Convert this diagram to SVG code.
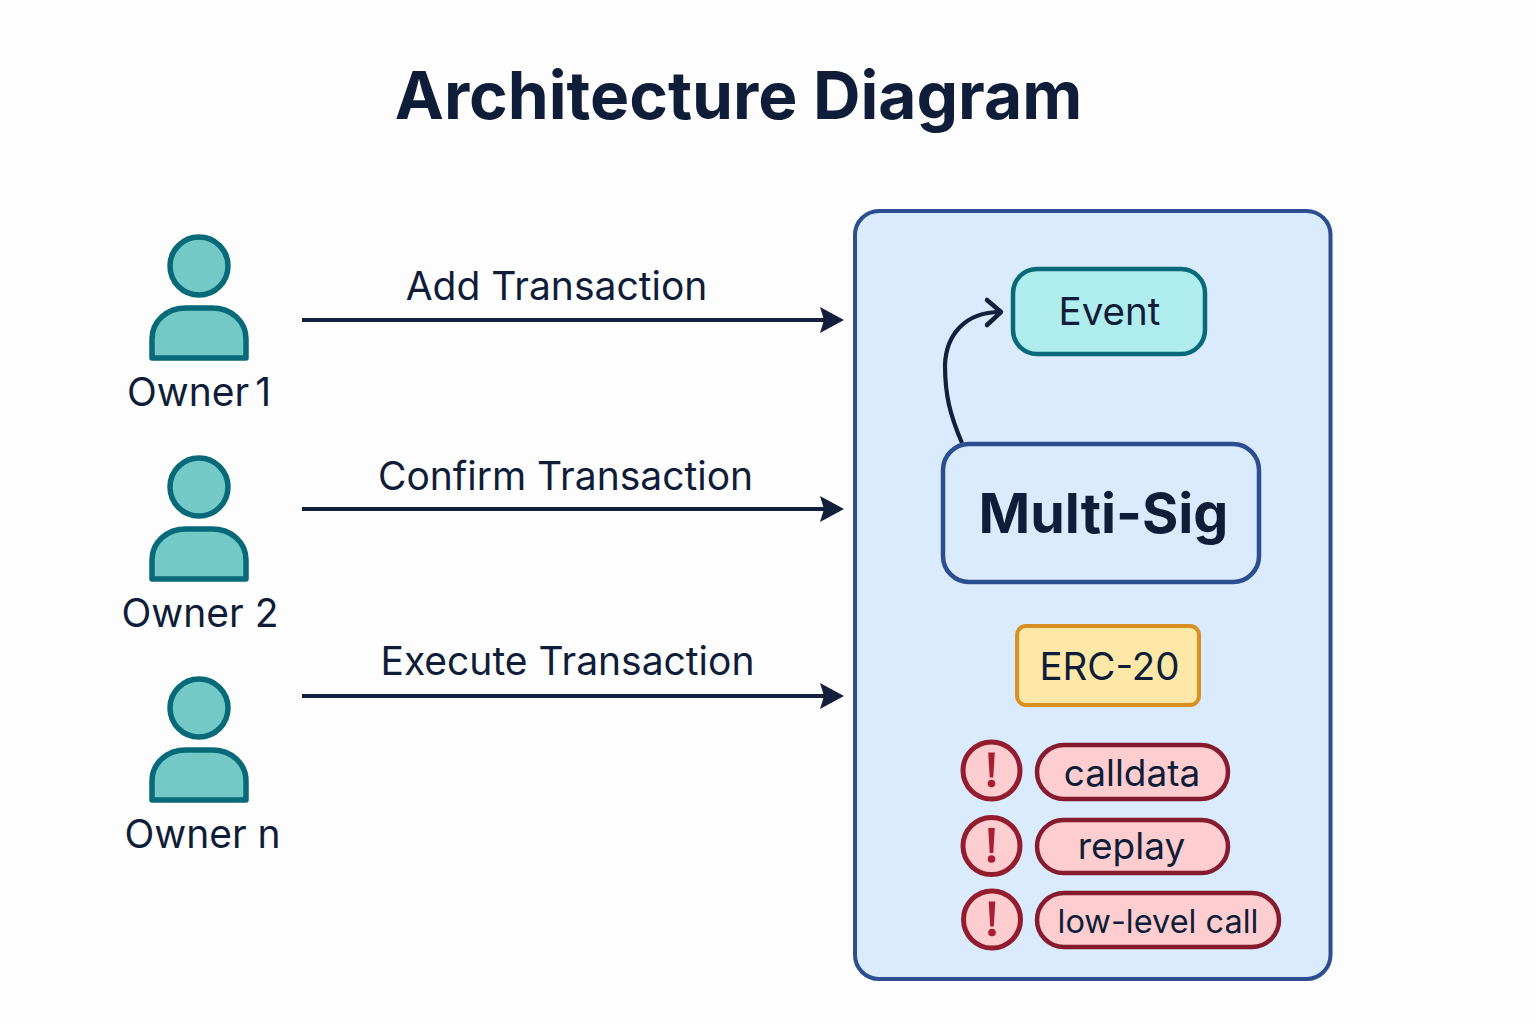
<svg xmlns="http://www.w3.org/2000/svg" width="1536" height="1024" viewBox="0 0 1536 1024">
<style>
text{font-family:Inter,"Noto Sans","Liberation Sans",sans-serif;fill:#101d38;text-anchor:middle}
.lbl{font-size:39px}
.own{font-size:39px}
.conn{stroke:#12203c;stroke-width:3.8;fill:none}
.curve{stroke:#12203c;stroke-width:4.2;fill:none}
.head{fill:#12203c;stroke:none}
.person{fill:#73c9c5;stroke:#086a78;stroke-width:5.5;stroke-linejoin:round}
.risk{fill:#fecdd0;stroke:#851b2d;stroke-width:4.5}
.riskc{fill:#fecdd0;stroke:#931d2f;stroke-width:5}
.bang{fill:#a81f32;stroke:none}
.rt{font-size:37px}
</style>
<defs>
<g id="person"><circle cx="199" cy="266" r="29" class="person"/><path d="M152 358V339C152 321 167 308 186 308H212C231 308 246 321 246 339V358Z" class="person"/></g>
<g id="bang"><circle r="28.500" class="riskc"/><path d="M-3.300 -18H3.300L1.800 7H-1.800Z" class="bang"/><circle cy="13" r="3.800" class="bang"/></g>
</defs>
<rect width="1536" height="1024" fill="#fdfdfe"/>
<text x="738.500" y="119" font-size="65.800" font-weight="700" id="title">Architecture Diagram</text>
<g id="system"><rect x="855" y="211" width="475.500" height="768" rx="24" fill="#dbebfe" stroke="#2c4d8f" stroke-width="4"/></g>
<g id="owner1"><use href="#person"/><text x="199" y="406" class="own" word-spacing="-5">Owner 1</text></g>
<g id="owner2"><use href="#person" y="221"/><text x="200" y="627" class="own">Owner 2</text></g>
<g id="ownern"><use href="#person" y="442"/><text x="202.500" y="848" class="own">Owner n</text></g>
<g id="connectors">
<path d="M302 320H824" class="conn"/><path d="M820 307L844 320L820 333L824 320Z" class="head"/>
<path d="M302 509H824" class="conn"/><path d="M820 496L844 509L820 522L824 509Z" class="head"/>
<path d="M302 696H824" class="conn"/><path d="M820 683L844 696L820 709L824 696Z" class="head"/>
<path d="M962 443C950 415 945 395 945 365C946 335 965 312 1000 312" class="curve"/>
<path d="M987 300L1001 312L987 325" fill="none" stroke="#12203c" stroke-width="4.500" stroke-linecap="round" stroke-linejoin="round"/>
<text x="556.500" y="299.500" class="lbl">Add Transaction</text>
<text x="565.500" y="489.500" class="lbl">Confirm Transaction</text>
<text x="567.500" y="674.500" class="lbl">Execute Transaction</text>
</g>
<g id="event"><rect x="1013" y="269" width="192" height="85" rx="24" fill="#aeecee" stroke="#086a78" stroke-width="4.500"/><text x="1109.500" y="325" font-size="38.500">Event</text></g>
<g id="multisig"><rect x="943" y="444" width="316" height="138" rx="26" fill="#dbebfe" stroke="#2c4d8f" stroke-width="4.500"/><text x="1103.500" y="533" font-size="55.500" font-weight="700">Multi-Sig</text></g>
<g id="erc20"><rect x="1017" y="626" width="182" height="79" rx="9" fill="#fde8a8" stroke="#d98f22" stroke-width="4"/><text x="1109.500" y="680" font-size="38.500">ERC-20</text></g>
<g id="risk1"><use href="#bang" x="991.500" y="770.500"/><rect x="1037" y="745" width="191" height="54" rx="27" class="risk"/><text x="1132" y="786" class="rt">calldata</text></g>
<g id="risk2"><use href="#bang" x="991.500" y="846"/><rect x="1037" y="820" width="191" height="53" rx="26.500" class="risk"/><text x="1131.500" y="859" class="rt">replay</text></g>
<g id="risk3"><use href="#bang" x="992" y="919.500"/><rect x="1037" y="893" width="242" height="54" rx="27" class="risk"/><text x="1158" y="933" style="font-size:32.500px">low-level call</text></g>
</svg>
